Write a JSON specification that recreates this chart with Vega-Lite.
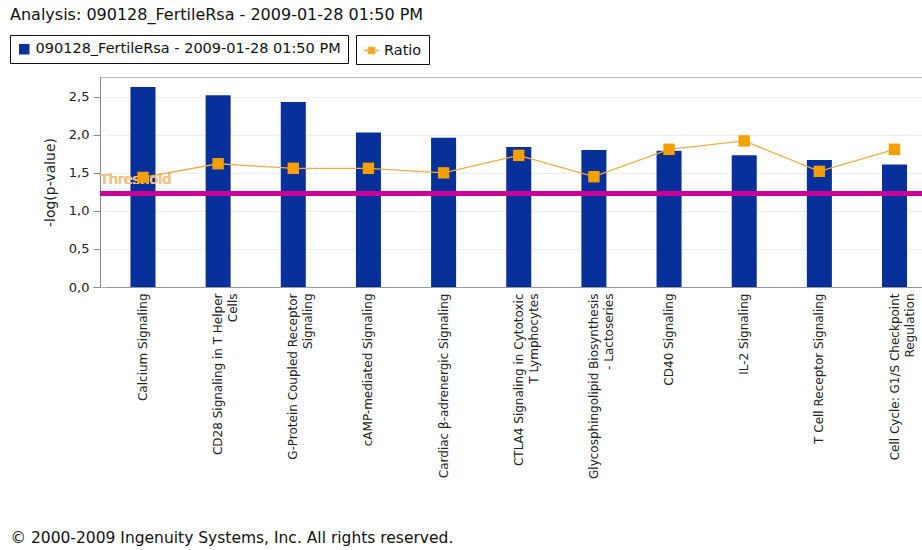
{
  "$schema": "https://vega.github.io/schema/vega-lite/v6.json",
  "width": 822,
  "height": 210,
  "autosize": {"type": "none"},
  "padding": {"left": 100, "top": 77, "right": 0, "bottom": 263},
  "background": "white",
  "config": {
    "font": "DejaVu Sans",
    "view": {"stroke": "#b8b8b8", "strokeWidth": 1}
  },
  "title": {
    "text": "Analysis: 090128_FertileRsa - 2009-01-28 01:50 PM",
    "anchor": "start",
    "frame": "group",
    "dx": -90,
    "offset": 12,
    "fontSize": 16,
    "fontWeight": "normal",
    "color": "#111111",
    "font": "DejaVu Sans"
  },
  "data": {
    "values": [
      {"pathway": "Calcium Signaling", "neglogp": 2.63, "ratio": 1.44},
      {"pathway": "CD28 Signaling in T Helper|Cells", "neglogp": 2.52, "ratio": 1.62},
      {"pathway": "G-Protein Coupled Receptor|Signaling", "neglogp": 2.43, "ratio": 1.56},
      {"pathway": "cAMP-mediated Signaling", "neglogp": 2.03, "ratio": 1.56},
      {"pathway": "Cardiac β-adrenergic Signaling", "neglogp": 1.96, "ratio": 1.50},
      {"pathway": "CTLA4 Signaling in Cytotoxic|T Lymphocytes", "neglogp": 1.84, "ratio": 1.73},
      {"pathway": "Glycosphingolipid Biosynthesis|- Lactoseries", "neglogp": 1.80, "ratio": 1.45},
      {"pathway": "CD40 Signaling", "neglogp": 1.79, "ratio": 1.81},
      {"pathway": "IL-2 Signaling", "neglogp": 1.73, "ratio": 1.92},
      {"pathway": "T Cell Receptor Signaling", "neglogp": 1.67, "ratio": 1.52},
      {"pathway": "Cell Cycle: G1/S Checkpoint|Regulation", "neglogp": 1.61, "ratio": 1.81}
    ]
  },
  "layer": [
    {
      "mark": {"type": "bar"},
      "encoding": {
        "x": {
          "field": "pathway",
          "type": "nominal",
          "sort": null,
          "scale": {"paddingInner": 0.667, "paddingOuter": 0.3335, "range": [5.4, 832.1]},
          "axis": {
            "labelAngle": -90,
            "labelExpr": "split(datum.label, '|')",
            "labelFontSize": 12,
            "labelColor": "#222222",
            "labelPadding": 6,
            "labelLimit": 300,
            "labelLineHeight": 15,
            "ticks": false,
            "domainColor": "#999999",
            "title": "© 2000-2009 Ingenuity Systems, Inc. All rights reserved.",
            "titleX": -90,
            "titleY": 250,
            "titleAlign": "left",
            "titleAnchor": "start",
            "titleBaseline": "middle",
            "titleFontSize": 15.5,
            "titleFontWeight": "normal",
            "titleColor": "#111111"
          }
        },
        "y": {
          "field": "neglogp",
          "type": "quantitative",
          "title": "-log(p-value)",
          "scale": {"domain": [0, 2.76], "nice": false, "zero": true},
          "axis": {
            "values": [0, 0.5, 1, 1.5, 2, 2.5],
            "labelExpr": "replace(format(datum.value, '.1f'), '.', ',')",
            "labelFontSize": 13,
            "labelColor": "#222222",
            "labelPadding": 4,
            "tickSize": 7,
            "tickColor": "#888888",
            "domainColor": "#888888",
            "grid": true,
            "gridColor": "#eeeeee",
            "titleFontSize": 14,
            "titleFontWeight": "normal",
            "titleColor": "#222222",
            "titlePadding": 11
          }
        },
        "color": {
          "datum": "090128_FertileRsa - 2009-01-28 01:50 PM",
          "scale": {"range": ["#08309a"]},
          "legend": {
            "title": null,
            "orient": "none",
            "legendX": -90,
            "legendY": -42,
            "direction": "horizontal",
            "strokeColor": "#111111",
            "padding": 7,
            "symbolType": "square",
            "symbolSize": 110,
            "labelFontSize": 14.5,
            "labelColor": "#111111",
            "labelFont": "DejaVu Sans",
            "labelLimit": 400
          }
        }
      }
    },
    {
      "mark": {"type": "text", "text": "Threshold", "align": "left", "baseline": "alphabetic", "dx": -43, "dy": -9, "fontSize": 14.5, "color": "#f2c27e", "opacity": 0.8},
      "encoding": {
        "x": {"datum": "Calcium Signaling", "type": "nominal"},
        "y": {"datum": 1.23, "type": "quantitative", "title": "-log(p-value)"}
      }
    },
    {
      "mark": {"type": "rule", "color": "#cc0099", "strokeWidth": 5},
      "encoding": {
        "y": {"datum": 1.23, "type": "quantitative", "title": "-log(p-value)"}
      }
    },
    {
      "mark": {"type": "line", "strokeWidth": 1.3},
      "encoding": {
        "x": {"field": "pathway", "type": "nominal", "sort": null},
        "y": {"field": "ratio", "type": "quantitative", "title": "-log(p-value)"},
        "stroke": {
          "datum": "Ratio",
          "scale": {"range": ["#f0ad3c"]},
          "legend": {
            "title": null,
            "orient": "none",
            "legendX": 256,
            "legendY": -42,
            "direction": "horizontal",
            "strokeColor": "#111111",
            "padding": 7,
            "symbolType": "M-1,0H1M-0.4,-0.4H0.4V0.4H-0.4Z",
            "symbolSize": 240,
            "symbolFillColor": "#f5a000",
            "symbolStrokeColor": "#f0ad3c",
            "symbolStrokeWidth": 1.5,
            "labelFontSize": 14.5,
            "labelColor": "#111111",
            "labelFont": "DejaVu Sans"
          }
        }
      }
    },
    {
      "mark": {"type": "square", "size": 130, "color": "#f5a000", "opacity": 1},
      "encoding": {
        "x": {"field": "pathway", "type": "nominal", "sort": null},
        "y": {"field": "ratio", "type": "quantitative", "title": "-log(p-value)"}
      }
    }
  ]
}
